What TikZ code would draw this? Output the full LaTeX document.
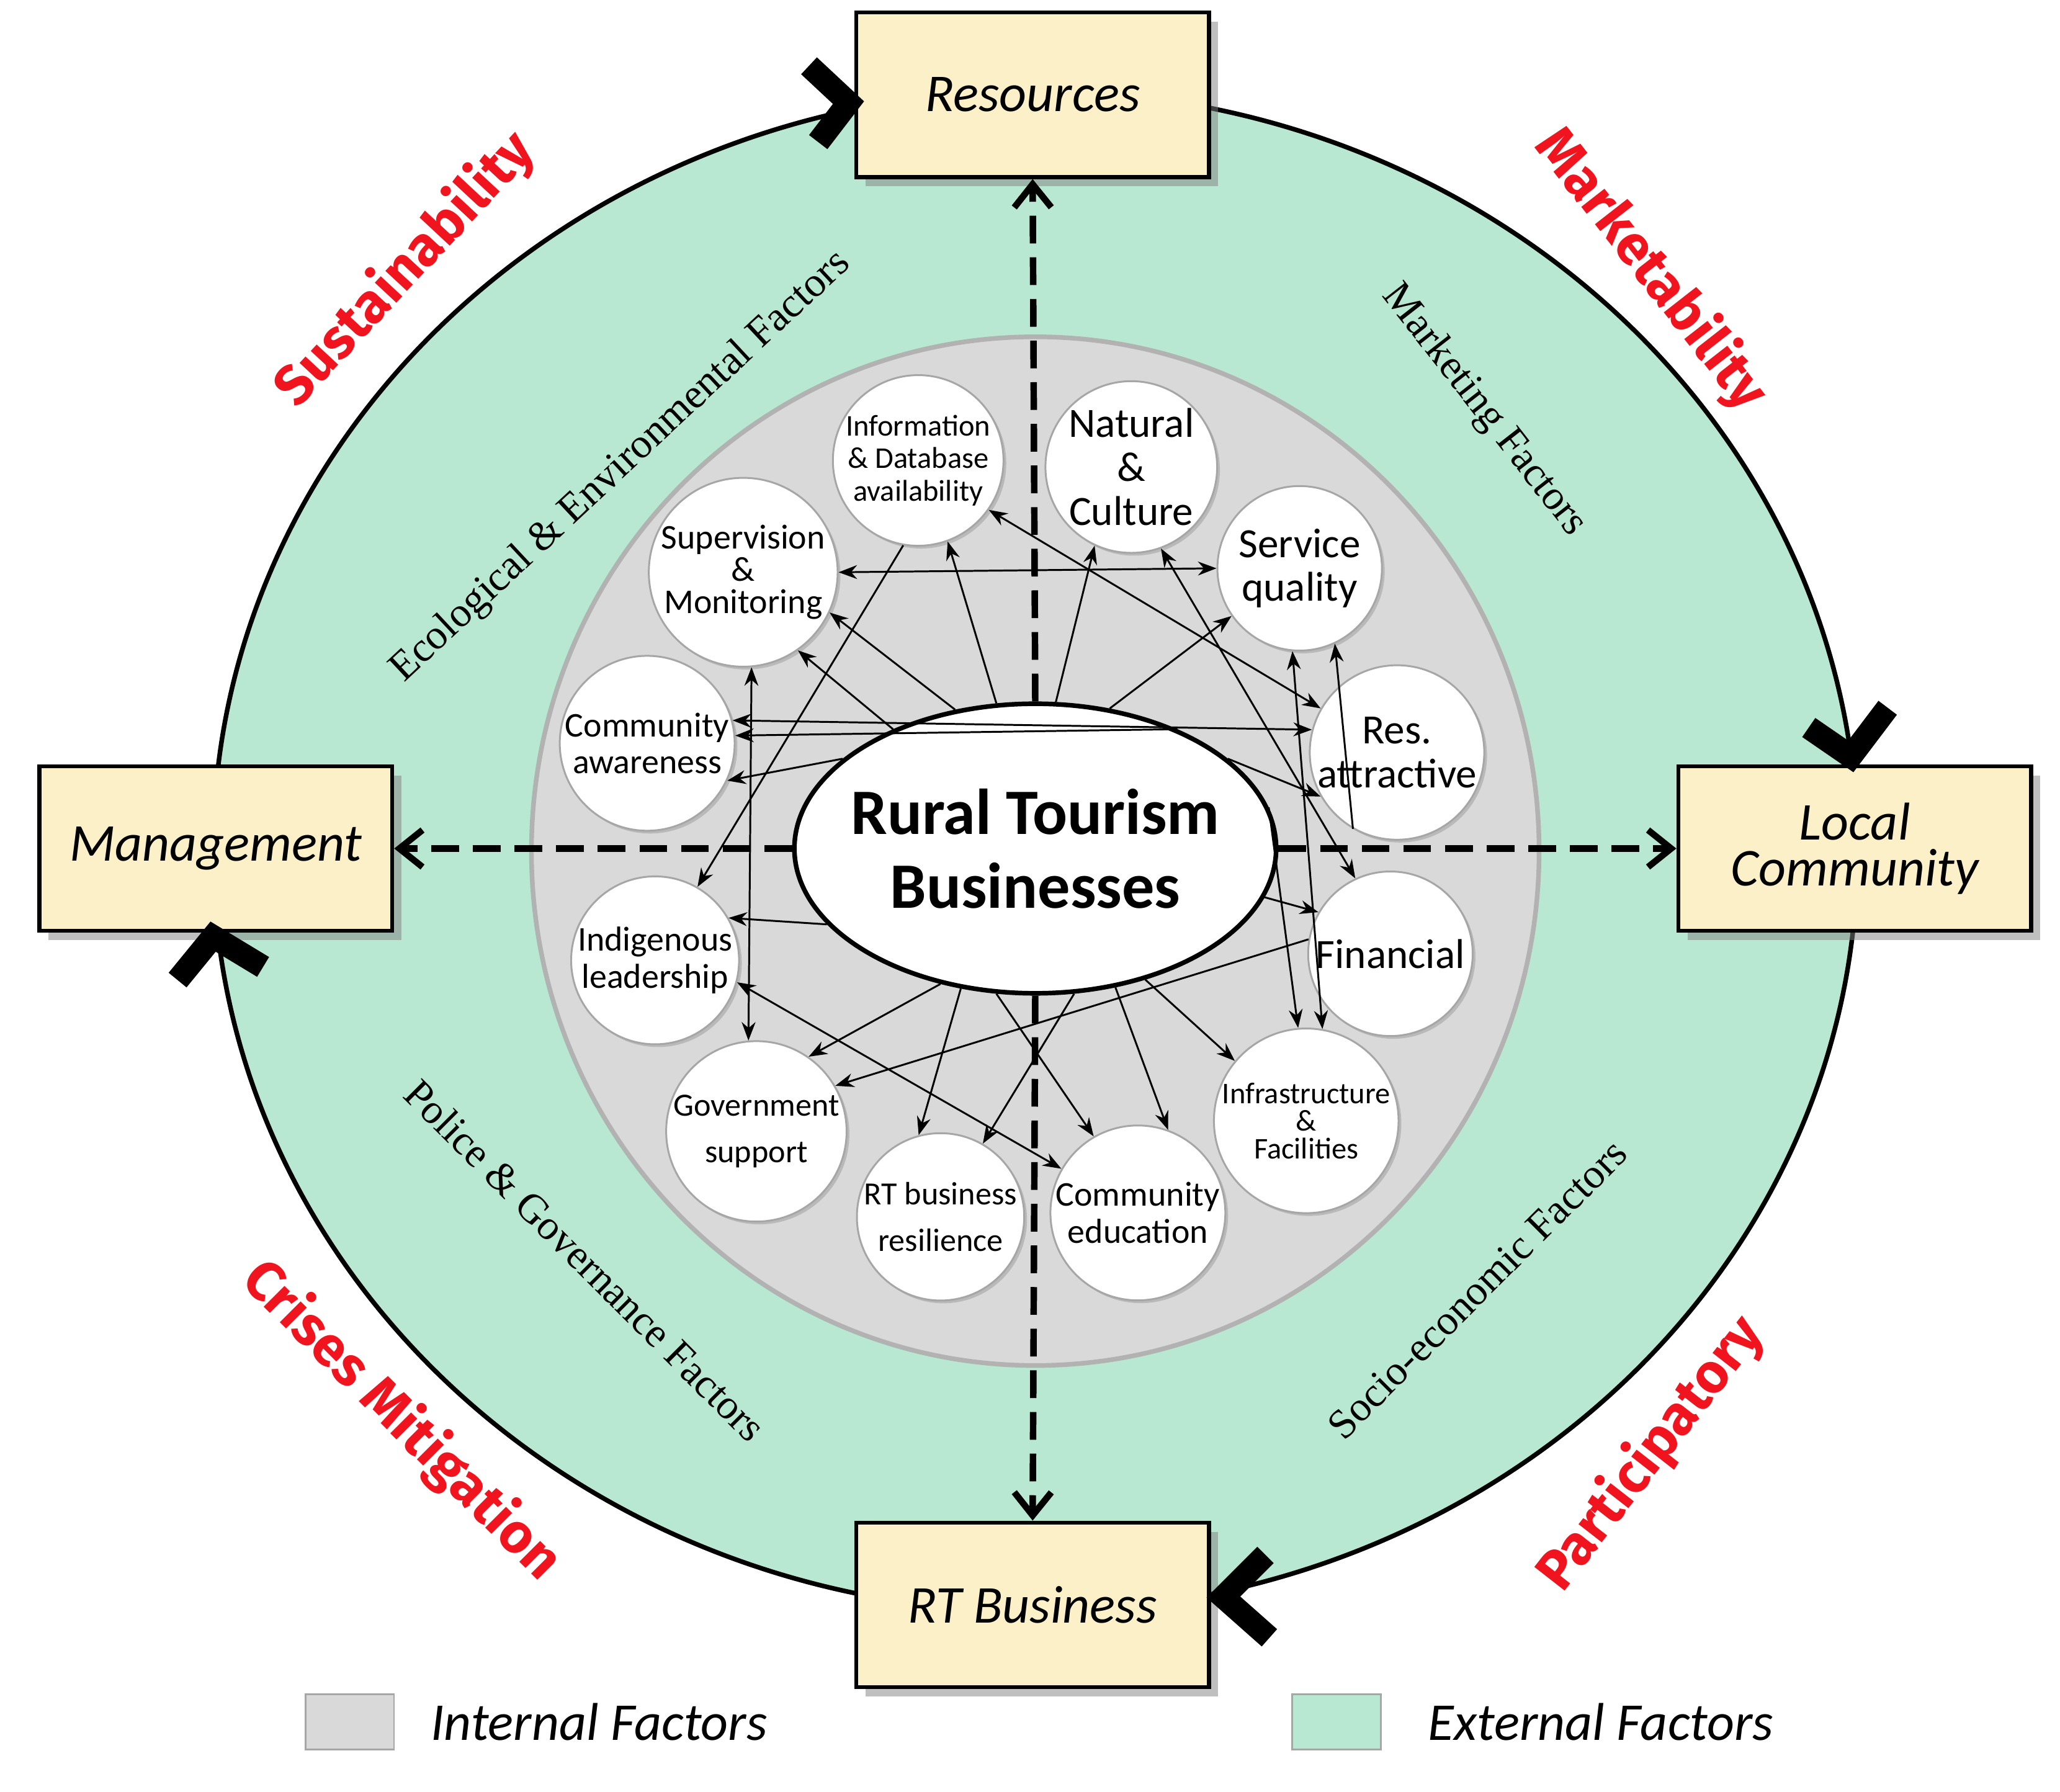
\documentclass[tikz,border=0pt]{standalone}
\usepackage{fontspec}
\setmainfont{Carlito}
\newfontfamily\serifx{Liberation Serif}
\newfontfamily\redf{Fira Sans}
\usetikzlibrary{arrows.meta,shapes.geometric,shadows}
\definecolor{grn}{HTML}{B8E8D2}
\definecolor{gry}{HTML}{D9D9D9}
\definecolor{ylw}{HTML}{FBF0C8}
\definecolor{rd}{HTML}{F0141E}
\begin{document}
\begin{tikzpicture}[x=0.01cm,y=-0.01cm,
 sc/.style={circle,draw=gray!70,fill=white,minimum size=1.25cm,inner sep=0pt,align=center,font=\fontsize{7.5}{8}\selectfont,drop shadow={opacity=0.35,shadow xshift=0.6pt,shadow yshift=-0.6pt}},
 bx/.style={draw=black,line width=0.9pt,fill=ylw,minimum width=2.68cm,minimum height=1.25cm,align=center,font=\fontsize{11.5}{12}\selectfont\itshape,drop shadow={opacity=0.5,shadow xshift=2pt,shadow yshift=-2pt}},
 arr/.style={-{Stealth[length=4pt,width=3pt]},line width=0.4pt},
 darr/.style={{Stealth[length=4pt,width=3pt]}-{Stealth[length=4pt,width=3pt]},line width=0.4pt},
 dsh/.style={-{Straight Barb[length=5pt,width=8pt]},line width=1.4pt,dash pattern=on 6pt off 3pt},
 red/.style={text=rd,font=\redf\bfseries\fontsize{12}{13}\selectfont},
 fac/.style={font=\serifx\fontsize{9}{10}\selectfont},
 chev/.style={line width=5pt,line join=miter,miter limit=10}]
\useasboundingbox (0,0) rectangle (1566,1362);
\fill[grn,draw=black,line width=1pt] (787,647) ellipse [x radius=625, y radius=578];
\fill[gry,draw=gray!60,line width=1pt] (787,647) ellipse [x radius=383, y radius=391];
% boxes
\node[bx] (R) at (785,72) {Resources};
\node[bx] (M) at (164,645) {Management};
\node[bx] (L) at (1410,645) {Local\\[-2pt]Community};
\node[bx] (B) at (785,1220) {RT Business};
% center
\node[ellipse,draw=black,line width=1pt,fill=white,minimum width=3.66cm,minimum height=2.2cm,inner sep=-4pt,align=center,font=\bfseries\fontsize{14}{16}\selectfont] (c) at (787,645) {Rural Tourism\\Businesses};
% dashed axes
\draw[dsh] (c.north) -- (R.south);
\draw[dsh] (c.south) -- (B.north);
\draw[dsh] (c.west) -- (M.east);
\draw[dsh] (c.east) -- (L.west);
% small circles
\node[sc,font=\fontsize{6.5}{7}\selectfont] (info) at (698,350) {Information\\\& Database\\availability};
\node[sc,font=\fontsize{9}{9.5}\selectfont] (nat) at (860,355) {Natural\\\&\\Culture};
\node[sc,font=\fontsize{7.5}{7}\selectfont] (sup) at (565,435) {Supervision\\\&\\Monitoring};
\node[sc,font=\fontsize{9}{9.5}\selectfont] (svc) at (988,432) {Service\\quality};
\node[sc] (aw) at (492,565) {Community\\awareness};
\node[sc,font=\fontsize{9}{9.5}\selectfont] (res) at (1062,572) {Res.\\attractive};
\node[sc] (ind) at (498,730) {Indigenous\\leadership};
\node[sc,font=\fontsize{9}{9.5}\selectfont] (fin) at (1057,725) {Financial};
\node[sc,font=\fontsize{7}{10}\selectfont] (gov) at (575,860) {Government\\support};
\node[sc,font=\fontsize{6.5}{6}\selectfont] (inf) at (993,852) {Infrastructure\\\&\\Facilities};
\node[sc,font=\fontsize{7}{10}\selectfont] (rt) at (715,925) {RT business\\resilience};
\node[sc] (edu) at (865,922) {Community\\education};
% connectors
\draw[darr] (sup.east) -- (svc.west);
\draw[darr] (aw.15) -- (res.165);
\draw[darr] (info.-35) -- (res.150);
\draw[darr] (nat.-70) -- (fin.115);
\draw[darr] (sup.-85) -- (gov.95);
\draw[darr] (svc.-95) -- (inf.80);
\draw[arr] (fin.170) -- (gov.30);
\draw[darr] (ind.-15) -- (edu.150);
\draw[arr] (c.105) -- (info.-70);
\draw[arr] (c.82) -- (nat.-115);
\draw[arr] (c.120) -- (sup.-25);
\draw[arr] (c.62) -- (svc.-145);
\draw[arr] (c.25) -- (res.-150);
\draw[arr] (c.-12) -- (fin.150);
\draw[arr] (c.-50) -- (inf.140);
\draw[arr] (c.-105) -- (edu.120);
\draw[arr] (c.-118) -- (rt.105);
\draw[arr] (c.-125) -- (gov.55);
\draw[arr] (c.-160) -- (ind.30);
\draw[arr] (c.155) -- (aw.-25);
\draw[arr] (c.-75) -- (rt.60);
\draw[arr] (c.-60) -- (edu.70);
\draw[arr] (info.-100) -- (ind.60);
\draw[arr] (c.140) -- (sup.-55);
\draw[arr] (res.-120) -- (svc.-65);
\draw[arr] (c.40) -- (aw.5);
\draw[arr] (c.10) -- (inf.95);
% red labels
\node[red,rotate=47] at (308,205) {Sustainability};
\node[red,rotate=-52] at (1255,205) {Marketability};
\node[red,rotate=-45] at (305,1080) {Crises Mitigation};
\node[red,rotate=52] at (1255,1105) {Participatory};
% factor labels
\node[fac,rotate=43] at (472,355) {Ecological \& Environmental Factors};
\node[fac,rotate=-52] at (1128,312) {Marketing Factors};
\node[fac,rotate=-45] at (445,958) {Police \& Governance Factors};
\node[fac,rotate=45] at (1123,980) {Socio-economic Factors};
% chevrons
\draw[chev] (615,50) -- (645,78) -- (622,108);
\draw[chev] (1375,553) -- (1407,575) -- (1435,538);
\draw[chev] (135,745) -- (162,712) -- (200,735);
\draw[chev] (962,1182) -- (930,1214) -- (965,1245);
% legend
\node[draw=gray!70,fill=gry,minimum width=0.67cm,minimum height=0.42cm] (lg1) at (266,1309) {};
\node[anchor=west,font=\itshape\fontsize{11.5}{12}\selectfont] (lt1) at (315,1309) {Internal Factors};
\node[draw=gray!70,fill=grn,minimum width=0.67cm,minimum height=0.42cm] (lg2) at (1016,1309) {};
\node[anchor=west,font=\itshape\fontsize{11.5}{12}\selectfont] (lt2) at (1073,1309) {External Factors};
\end{tikzpicture}
\end{document}
